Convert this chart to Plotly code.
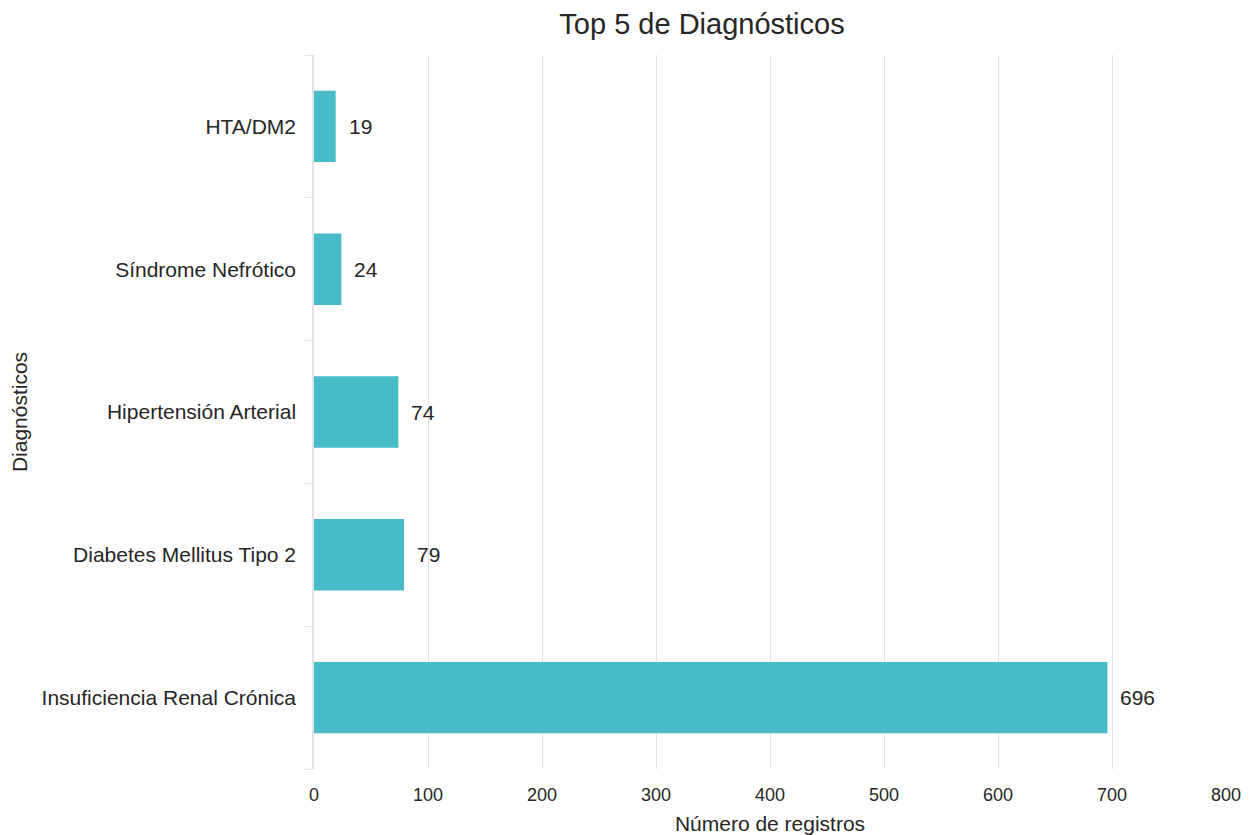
import plotly.graph_objects as go

# Top diagnoses and record counts (bottom to top)
diagnosticos = [
    "Insuficiencia Renal Crónica",
    "Diabetes Mellitus Tipo 2",
    "Hipertensión Arterial",
    "Síndrome Nefrótico",
    "HTA/DM2",
]
registros = [696, 79, 74, 24, 19]

x_ticks = [0, 100, 200, 300, 400, 500, 600, 700, 800]

BAR_COLOR = "#47BCC6"
TEXT_COLOR = "#262626"
GRID_COLOR = "#E3E3E3"
FONT = "Liberation Sans"

fig = go.Figure(
    go.Bar(
        x=registros,
        y=diagnosticos,
        orientation="h",
        width=0.5,
        marker=dict(color=BAR_COLOR, line=dict(width=0)),
        hoverinfo="x+y",
    )
)

# Value labels to the right of each bar
for d, v in zip(diagnosticos, registros):
    fig.add_annotation(
        x=v, y=d, text=str(v), showarrow=False,
        xanchor="left", yanchor="middle", xshift=11,
        font=dict(size=21, color=TEXT_COLOR, family=FONT),
    )

fig.update_layout(
    width=1252,
    height=835,
    margin=dict(l=314, r=26, t=55, b=66),
    paper_bgcolor="white",
    plot_bgcolor="white",
    font=dict(family=FONT, color=TEXT_COLOR),
    showlegend=False,
    title=dict(
        text="Top 5 de Diagnósticos",
        x=702 / 1252, xanchor="center", xref="container",
        y=1 - 24 / 835, yanchor="middle", yref="container",
        font=dict(size=29, color=TEXT_COLOR, family=FONT),
    ),
)

fig.update_xaxes(
    range=[0, 800],
    tickvals=x_ticks,
    ticktext=[str(t) for t in x_ticks],
    showgrid=True,
    gridcolor=GRID_COLOR,
    gridwidth=1,
    zeroline=False,
    showline=False,
    ticks="",
    ticklabelstandoff=13,
    automargin=False,
    tickfont=dict(size=18, color=TEXT_COLOR, family=FONT),
    title=dict(text="Número de registros", font=dict(size=21, color=TEXT_COLOR, family=FONT), standoff=12),
)

fig.update_yaxes(
    categoryorder="array",
    categoryarray=diagnosticos,
    range=[-0.5, 4.5],
    showgrid=False,
    zeroline=False,
    showline=True,
    linecolor=GRID_COLOR,
    linewidth=1.5,
    ticks="outside",
    tickson="boundaries",
    ticklen=7,
    tickcolor=GRID_COLOR,
    tickwidth=1,
    ticklabelstandoff=12,
    automargin=False,
    tickfont=dict(size=21, color=TEXT_COLOR, family=FONT),
    title=dict(text="Diagnósticos", font=dict(size=21, color=TEXT_COLOR, family=FONT), standoff=8),
)

fig.write_html("out.html")
